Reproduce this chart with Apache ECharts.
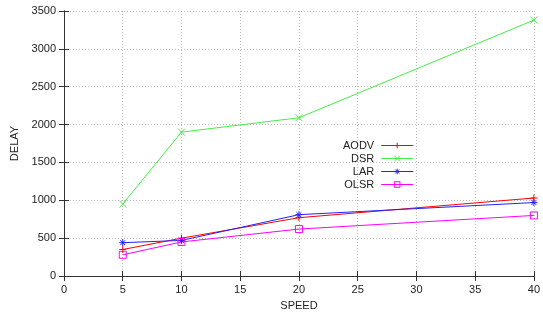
<!DOCTYPE html>
<html>
<head>
<meta charset="utf-8">
<script src="https://cdn.jsdelivr.net/npm/echarts@6/dist/echarts.min.js"></script>
<style>
html,body{margin:0;padding:0;background:#fff;}
#chart1{width:543px;height:322px;}
</style>
</head>
<body>
<div id="chart1"></div>
<script>
// 数据
var speeds = [5, 10, 20, 40];
var aodv = [350, 500, 770, 1030];
var dsr = [950, 1900, 2090, 3380];
var lar = [440, 470, 810, 970];
var olsr = [280, 450, 620, 800];

function pairs(vals) {
	var out = [];
	for (var i = 0; i < speeds.length; i++) {
		out.push([speeds[i], vals[i]]);
	}
	return out;
}

var plusPath = 'path://M5,0L5,10M0,5L10,5';
var crossPath = 'path://M0,0L10,10M10,0L0,10';
var starPath = 'path://M5,0L5,10M0,5L10,5M1.5,1.5L8.5,8.5M8.5,1.5L1.5,8.5';

function makeSeries(name, vals, color, symbol, fill) {
	return {
		name: name,
		type: 'line',
		data: pairs(vals),
		symbol: symbol,
		symbolSize: 7,
		showAllSymbol: true,
		lineStyle: {color: color, width: 1},
		itemStyle: {color: fill, borderColor: color, borderWidth: 1},
		emphasis: {disabled: true},
		animation: false
	};
}

var font = 'Liberation Sans, Arial, sans-serif';
var txtColor = '#222';
var axisLine = {show: true, lineStyle: {color: '#333', width: 1}};
var gridLine = {show: true, lineStyle: {color: '#bbb', type: [1, 2], width: 1}};
var tick = {show: true, inside: true, length: 5, lineStyle: {color: '#333'}};

var option = {
	backgroundColor: '#fff',
	grid: {left: 64, right: 8, top: 11, bottom: 46},
	legend: {
		orient: 'vertical',
		left: 343,
		top: 139,
		padding: 0,
		align: 'right',
		itemWidth: 32,
		itemHeight: 7,
		itemGap: 0,
		lineStyle: {width: 1},
		itemStyle: {borderWidth: 1},
		textStyle: {fontFamily: font, fontSize: 11, color: txtColor, padding: [0, 2, 0, 0], lineHeight: 13},
		data: ['AODV', 'DSR', 'LAR', 'OLSR']
	},
	xAxis: [{
		type: 'value',
		min: 0, max: 40, interval: 5,
		name: 'SPEED',
		nameLocation: 'middle',
		nameGap: 24,
		nameTextStyle: {fontFamily: font, fontSize: 11, color: txtColor},
		axisLine: axisLine,
		axisTick: tick,
		axisLabel: {fontFamily: font, fontSize: 11, color: txtColor, margin: 8},
		splitLine: gridLine
	}, {
		type: 'value', position: 'top',
		min: 0, max: 40, interval: 5,
		axisLine: axisLine,
		axisTick: tick,
		axisLabel: {show: false},
		splitLine: {show: false}
	}],
	yAxis: [{
		type: 'value',
		min: 0, max: 3500, interval: 500,
		name: 'DELAY',
		nameLocation: 'middle',
		nameGap: 44,
		nameRotate: 90,
		nameTextStyle: {fontFamily: font, fontSize: 11, color: txtColor},
		axisLine: axisLine,
		axisTick: tick,
		axisLabel: {fontFamily: font, fontSize: 11, color: txtColor, margin: 8, formatter: function(v) { return String(v); }},
		splitLine: gridLine
	}, {
		type: 'value', position: 'right',
		min: 0, max: 3500, interval: 500,
		axisLine: axisLine,
		axisTick: tick,
		axisLabel: {show: false},
		splitLine: {show: false}
	}],
	series: [
		makeSeries('AODV', aodv, '#ff0000', plusPath, '#ff0000'),
		makeSeries('DSR', dsr, '#44ee44', crossPath, '#44ee44'),
		makeSeries('LAR', lar, '#2222ff', starPath, '#2222ff'),
		makeSeries('OLSR', olsr, '#ff00ff', 'rect', 'rgba(0,0,0,0)')
	]
};

var myChart = echarts.init(document.getElementById('chart1'));
myChart.setOption(option);
</script>
</body>
</html>
